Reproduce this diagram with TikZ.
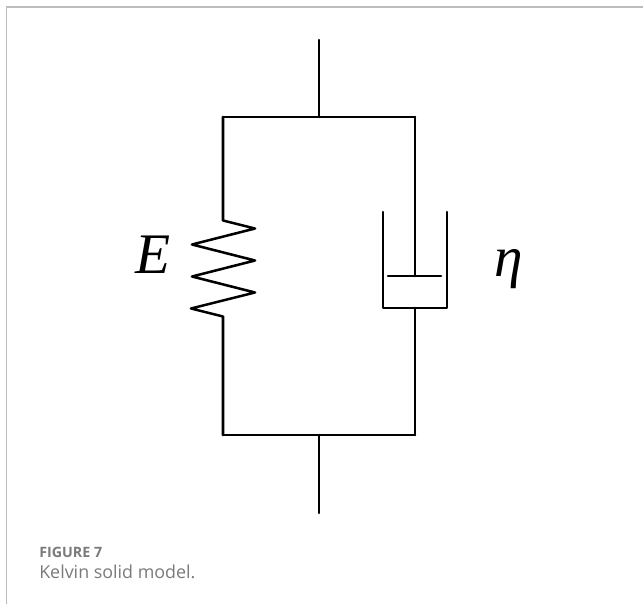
\documentclass[tikz,border=0pt]{standalone}
\usepackage{fontspec}
\setmainfont{Liberation Serif}
\newfontfamily\capfont{Open Sans}
\definecolor{framegray}{HTML}{BDBDBD}
\definecolor{capgray}{HTML}{7A7A7A}
\tikzset{
  x=0.75pt,y=-0.75pt,
  mech/.style={draw=black,line width=1.9pt,line cap=round,line join=round},
  frameline/.style={draw=framegray,line width=0.9pt},
  symb/.style={inner sep=0pt,anchor=base,font=\fontsize{43}{43}\selectfont\itshape},
  captext/.style={inner sep=0pt,anchor=base west,text=capgray}
}
\begin{document}
\begin{tikzpicture}
\useasboundingbox (0,0) rectangle (643,604);
\coordinate (ftl) at (6.5,604);
\coordinate (ftm) at (6.5,7);
\coordinate (ftr) at (643,7);
\draw[frameline] (ftl) -- (ftm) -- (ftr);
% frame points
\coordinate (topend) at (319,40);
\coordinate (topj) at (319,117);
\coordinate (tl) at (223,117);
\coordinate (tr) at (415,117);
\coordinate (bl) at (223,435);
\coordinate (br) at (415,435);
\coordinate (botj) at (319,435);
\coordinate (botend) at (319,513);
\coordinate (pistonj) at (415,276);
\coordinate (cylj) at (415,308);
\coordinate (pl) at (388,276);
\coordinate (pr) at (441,276);
\coordinate (cl) at (383,308);
\coordinate (cr) at (447,308);
\coordinate (cltop) at (383,212);
\coordinate (crtop) at (447,212);
\draw[mech] (topend) -- (topj);
\draw[mech] (botj) -- (botend);
% spring branch
\draw[mech] (tl) -- (tr);
\draw[mech] (bl) -- (br);
\draw[mech] (tl) -- (223,220.5) -- (255,228.5) -- (192,244.5) -- (255,260.5)
  -- (192,276.5) -- (255,292.5) -- (191,308.5) -- (223,316.5) -- (bl);
% dashpot branch
\draw[mech] (tr) -- (pistonj);
\draw[mech] (pl) -- (pr);
\draw[mech] (cltop) -- (cl) -- (cr) -- (crtop);
\draw[mech] (cylj) -- (br);
\node[symb] (E) at (153,273) {E};
\node[symb] (eta) at (509,276) {η};
\node[captext,font=\capfont\fontsize{10.7}{12}\selectfont\bfseries] (figlabel) at (39,557) {FIGURE 7};
\node[captext,font=\capfont\fontsize{13.4}{14}\selectfont] (figcap) at (39,578) {Kelvin solid model.};
\end{tikzpicture}
\end{document}
